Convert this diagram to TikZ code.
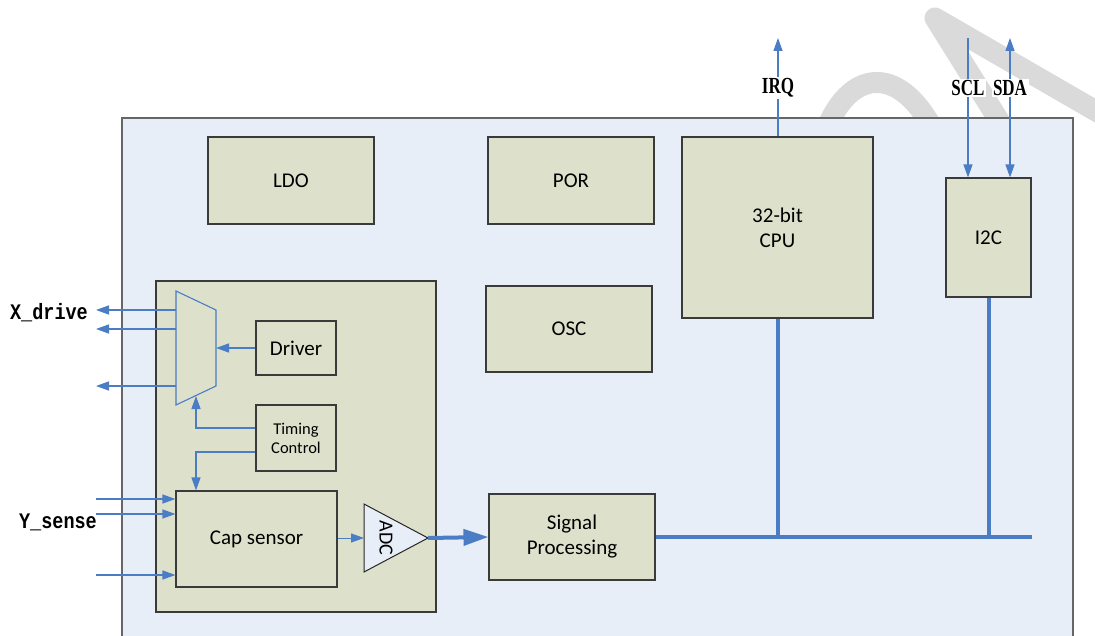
\documentclass[tikz,border=0pt]{standalone}
\usepackage{fontspec}
\setmainfont{Carlito}
\newfontfamily\monof{Liberation Mono}
\newfontfamily\serf{Liberation Serif}
\usetikzlibrary{arrows.meta}
\definecolor{chipfill}{HTML}{E7EEF8}
\definecolor{blkfill}{HTML}{DDE1CB}
\definecolor{blkdraw}{HTML}{3A3A3A}
\definecolor{wire}{HTML}{4A7DC4}
\definecolor{wmark}{HTML}{DADADA}
\newcommand{\pinfmt}[1]{\scalebox{1}[1.2]{#1}}
\newcommand{\sigfmt}[1]{\scalebox{0.85}[1.15]{#1}}
\tikzset{
  blk/.style={draw=blkdraw, fill=blkfill, line width=1.1pt, inner sep=0pt, align=center,
    font=\fontsize{21}{25}\selectfont},
  thinw/.style={draw=wire, line width=1.3pt},
  tw/.style={thinw, -{Triangle[length=13pt,width=9pt]}},
  twb/.style={thinw, {Triangle[length=13pt,width=9pt]}-{Triangle[length=13pt,width=9pt]}},
  busw/.style={draw=wire, line width=4pt},
  busarr/.style={busw, -{Triangle[length=25pt,width=16pt]}},
  pinlab/.style={font=\monof\bfseries\fontsize{18.5}{20}\selectfont, inner sep=1pt},
  siglab/.style={font=\serf\bfseries\fontsize{20}{22}\selectfont, fill=white, inner sep=1.5pt},
  wmk/.style={draw=wmark, line width=21pt},
}
\begin{document}
\begin{tikzpicture}[x=1pt,y=-1pt]
\useasboundingbox (0,0) rectangle (1095,636);
\clip (0,0) rectangle (1095,636);
% watermark (partly hidden by the chip)
\coordinate (wa) at (935,18);
\coordinate (wr) at (1115,122);
\coordinate (wl) at (1008,135);
\draw[wmk, line join=round] (wr) -- (wa) -- (wl);
\coordinate (ws) at (824,135);
\coordinate (we) at (936,135);
\draw[wmk] (ws) .. controls (848,68) and (900,62) .. (we);
% chip
\draw[draw=black!60, fill=chipfill, line width=1.1pt] (122,118) rectangle (1073,660);
% blocks
\node[blk, minimum width=166pt, minimum height=87pt] (ldo) at (291,180.5) {LDO};
\node[blk, minimum width=166pt, minimum height=87pt] (por) at (571,180.5) {POR};
\node[blk, minimum width=191pt, minimum height=181pt] (cpu) at (777.5,227.5) {32-bit\\CPU};
\node[blk, minimum width=85pt, minimum height=119pt] (i2c) at (988.5,237.5) {I2C};
\node[blk, minimum width=166pt, minimum height=86pt] (osc) at (569,329) {OSC};
\node[blk, minimum width=280pt, minimum height=331pt] (afe) at (296,446.5) {};
\node[blk, minimum width=80pt, minimum height=54pt] (drv) at (296,348) {Driver};
\node[blk, minimum width=80pt, minimum height=66pt, font=\fontsize{16.5}{19}\selectfont] (tim) at (296,438) {Timing\\Control};
\node[blk, minimum width=161pt, minimum height=96pt] (cap) at (256.5,539) {Cap sensor};
\node[blk, minimum width=166pt, minimum height=86pt] (sp) at (572,537) {Signal\\Processing};
% mux
\coordinate (m1) at (176,291); \coordinate (m2) at (216,310);
\coordinate (m3) at (216,386); \coordinate (m4) at (176,405);
\draw[thinw, line width=1.1pt] (m1) -- (m2) -- (m3) -- (m4) -- cycle;
% ADC
\coordinate (a1) at (364,504); \coordinate (atip) at (428,538); \coordinate (a2) at (364,572);
\draw[fill=chipfill, draw=black!85, line width=1pt] (a1) -- (atip) -- (a2) -- cycle;
\node[rotate=-90, font=\fontsize{20}{22}\selectfont, inner sep=0pt] (adc) at (386,538) {ADC};
% X_drive
\coordinate (xo1) at (96,310); \coordinate (xo2) at (96,329); \coordinate (xo3) at (96,386);
\draw[tw] (xo1 -| m1) -- (xo1);
\draw[tw] (xo2 -| m1) -- (xo2);
\draw[tw] (xo3 -| m1) -- (xo3);
\node[pinlab] (xlab) at (49,313) {\pinfmt{X\_drive}};
% Y_sense
\coordinate (yi1) at (96,499); \coordinate (yi2) at (96,514); \coordinate (yi3) at (96,575);
\draw[tw] (yi1) -- (yi1 -| cap.west);
\draw[tw] (yi2) -- (yi2 -| cap.west);
\draw[tw] (yi3) -- (yi3 -| cap.west);
\node[pinlab] (ylab) at (58,522) {\pinfmt{Y\_sense}};
% internal
\draw[tw] (drv.west) -- (drv.west -| m2);
\coordinate (tj1) at (196,428); \coordinate (tj2) at (196,452);
\draw[tw] (tim.west |- tj1) -- (tj1) -- (196,396);
\draw[tw] (tim.west |- tj2) -- (tj2) -- (tj2 |- cap.north);
\draw[tw, line width=1pt] (cap.east |- atip) -- (a1 |- atip);
\draw[busarr] (atip) -- (sp.west);
% bus
\coordinate (busend) at (1032,537);
\draw[busw] (sp.east) -- (busend);
\draw[busw] (cpu.south) -- (cpu.south |- busend);
\draw[busw] (i2c.south) -- (i2c.south |- busend);
% top signals
\coordinate (irq) at (778,38); \coordinate (scl) at (968,38); \coordinate (sda) at (1010,38);
\draw[tw] (cpu.north -| irq) -- (irq);
\draw[tw] (scl) -- (scl |- i2c.north);
\draw[twb] (sda) -- (sda |- i2c.north);
\node[siglab] (irql) at (778,88) {\sigfmt{IRQ}};
\node[siglab] (scll) at (968,88) {\sigfmt{SCL}};
\node[siglab] (sdal) at (1010,88) {\sigfmt{SDA}};
\end{tikzpicture}
\end{document}
